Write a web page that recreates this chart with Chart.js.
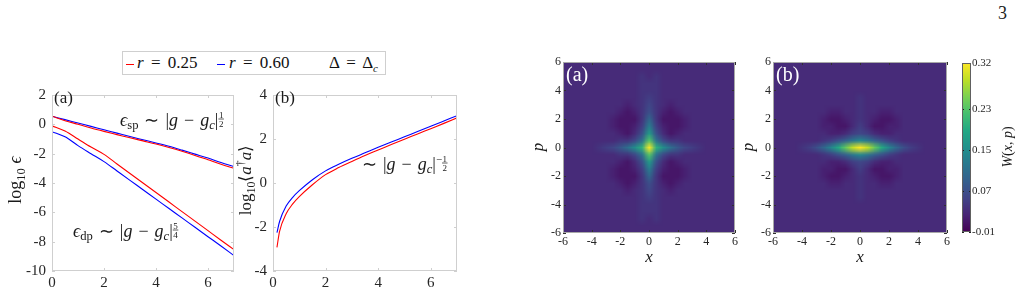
<!DOCTYPE html>
<html><head><meta charset="utf-8">
<script src="https://cdn.jsdelivr.net/npm/chart.js@4.4.1/dist/chart.umd.min.js"></script>
<style>
html,body{margin:0;padding:0;background:#fff;width:1023px;height:299px;overflow:hidden;position:relative;}
canvas{position:absolute;}
#legend{position:absolute;left:122px;top:51px;width:262px;height:22px;border:1px solid #cfcfcf;font-family:"Liberation Serif","Times New Roman",serif;font-size:17px;color:#111;background:#fff;}
#legend .ln{position:absolute;top:12px;width:8px;height:0;border-top:1.3px solid;}
#legend .tx{position:absolute;top:0;line-height:22px;white-space:pre;word-spacing:3px;}
#legend sub{font-size:11px;}
#pnum{position:absolute;left:998px;top:3px;font-family:"Liberation Serif","Times New Roman",serif;font-size:18px;color:#222;}
</style></head><body>
<div id="legend">
 <span class="ln" style="left:3px;border-color:#ff0000"></span>
 <span class="tx" style="left:14px"><i>r</i> = 0.25</span>
 <span class="ln" style="left:94px;border-color:#0000ff"></span>
 <span class="tx" style="left:106px"><i>r</i> = 0.60</span>
 <span class="tx" style="left:206px">Δ = Δ<sub><i>c</i></sub></span>
</div>
<div id="pnum">3</div>
<canvas id="lineA" width="250" height="219" style="left:0px;top:80px"></canvas>
<canvas id="lineB" width="234" height="219" style="left:236px;top:80px"></canvas>
<canvas id="heatA" width="220" height="220" style="left:525px;top:50px"></canvas>
<canvas id="heatB" width="210" height="220" style="left:745px;top:50px"></canvas>
<canvas id="cbar" width="68" height="220" style="left:955px;top:50px"></canvas>
<script>
// ---------------- data ----------------
// panel (a): log10 epsilon vs g
const gA      = [0, 0.5, 1, 1.5, 2, 2.5, 3, 3.5, 4, 4.5, 5, 5.5, 6, 6.5, 7];
const spRed   = [0.55, 0.25, 0.0, -0.25, -0.48, -0.7, -0.92, -1.13, -1.34, -1.58, -1.84, -2.12, -2.42, -2.72, -3.0];
const spBlue  = [0.55, 0.32, 0.09, -0.14, -0.37, -0.6, -0.83, -1.05, -1.27, -1.5, -1.76, -2.03, -2.3, -2.6, -2.88];
const dpRed   = [-0.1, -0.45, -1.0, -1.55, -2.05, -2.7, -3.35, -4.0, -4.65, -5.3, -5.95, -6.6, -7.25, -7.9, -8.54];
const dpBlue  = [-0.5, -0.85, -1.45, -2.0, -2.54, -3.18, -3.82, -4.46, -5.1, -5.74, -6.38, -7.02, -7.66, -8.3, -8.95];
// panel (b): log10 <a^dagger a> vs g
const gB      = [0.15, 0.25, 0.5, 0.75, 1, 1.5, 2, 2.5, 3, 3.5, 4, 4.5, 5, 5.5, 6, 6.5, 7];
const nRed    = [-2.93, -2.2, -1.4, -0.95, -0.62, -0.08, 0.38, 0.7, 0.98, 1.25, 1.5, 1.75, 1.99, 2.23, 2.47, 2.71, 2.96];
const nBlue   = [-2.26, -1.75, -1.05, -0.65, -0.35, 0.15, 0.55, 0.85, 1.12, 1.37, 1.62, 1.86, 2.1, 2.34, 2.58, 2.82, 3.06];
// tick labels
const lineXTicks = [0, 2, 4, 6];
const epsTicks   = [-10, -8, -6, -4, -2, 0, 2];
const nTicks     = [-4, -2, 0, 2, 4];
const heatTicks  = [-6, -4, -2, 0, 2, 4, 6];
const cbTicks    = [-0.01, 0.07, 0.15, 0.23, 0.32];
const cbLabels   = ['-0.01', '0.07', '0.15', '0.23', '0.32'];
// Wigner-function grids (values in units of 0.01); columns x, rows p
const W_UNIT = 0.01;
const heatX = [-6,-5.5,-5,-4.5,-4,-3.5,-3,-2.5,-2,-1.5,-1,-0.5,0,0.5,1,1.5,2,2.5,3,3.5,4,4.5,5,5.5,6];
const heatP = [6,5.5,5,4.5,4,3.5,3,2.5,2,1.5,1,0.5,0,-0.5,-1,-1.5,-2,-2.5,-3,-3.5,-4,-4.5,-5,-5.5,-6];
const wignerA = [
 [3,3,3,3,3,3,3,3,3,3,3,3,3,3,3,3,3,3,3,3,3,3,3,3,3],
 [3,3,3,3,3,3,3,3,3,3,3,3,3,3,3,3,3,3,3,3,3,3,3,3,3],
 [3,3,3,3,3,3,3,3,3,3,3,4,3,4,3,3,3,3,3,3,3,3,3,3,3],
 [3,3,3,3,3,3,3,3,3,3,3,4,4,4,3,3,3,3,3,3,3,3,3,3,3],
 [3,3,3,3,3,3,3,3,3,3,3,4,4,4,3,3,3,3,3,3,3,3,3,3,3],
 [3,3,3,3,3,3,3,3,3,3,3,4,5,4,3,3,3,3,3,3,3,3,3,3,3],
 [3,3,3,3,3,3,3,3,3,2,3,4,6,4,3,2,3,3,3,3,3,3,3,3,3],
 [3,3,3,3,3,3,3,3,2,1,2,4,7,4,2,1,2,3,3,3,3,3,3,3,3],
 [3,3,3,3,3,3,3,2,1,1,1,4,10,4,1,1,1,2,3,3,3,3,3,3,3],
 [3,3,3,3,3,3,3,2,1,1,2,5,13,5,2,1,1,2,3,3,3,3,3,3,3],
 [3,3,3,3,3,3,3,3,2,1,3,7,17,7,3,1,2,3,3,3,3,3,3,3,3],
 [3,3,3,3,3,3,3,3,4,4,6,11,23,11,6,4,4,3,3,3,3,3,3,3,3],
 [3,3,3,3,3,4,5,6,8,11,15,20,32,20,15,11,8,6,5,4,3,3,3,3,3],
 [3,3,3,3,3,3,3,3,4,4,6,11,23,11,6,4,4,3,3,3,3,3,3,3,3],
 [3,3,3,3,3,3,3,3,2,1,3,7,17,7,3,1,2,3,3,3,3,3,3,3,3],
 [3,3,3,3,3,3,3,2,1,1,2,5,13,5,2,1,1,2,3,3,3,3,3,3,3],
 [3,3,3,3,3,3,3,2,1,1,1,4,10,4,1,1,1,2,3,3,3,3,3,3,3],
 [3,3,3,3,3,3,3,3,2,1,2,4,7,4,2,1,2,3,3,3,3,3,3,3,3],
 [3,3,3,3,3,3,3,3,3,2,3,4,6,4,3,2,3,3,3,3,3,3,3,3,3],
 [3,3,3,3,3,3,3,3,3,3,3,4,5,4,3,3,3,3,3,3,3,3,3,3,3],
 [3,3,3,3,3,3,3,3,3,3,3,4,4,4,3,3,3,3,3,3,3,3,3,3,3],
 [3,3,3,3,3,3,3,3,3,3,3,4,4,4,3,3,3,3,3,3,3,3,3,3,3],
 [3,3,3,3,3,3,3,3,3,3,3,4,3,4,3,3,3,3,3,3,3,3,3,3,3],
 [3,3,3,3,3,3,3,3,3,3,3,3,3,3,3,3,3,3,3,3,3,3,3,3,3],
 [3,3,3,3,3,3,3,3,3,3,3,3,3,3,3,3,3,3,3,3,3,3,3,3,3]
];
const wignerB = [
 [3,3,3,3,3,3,3,3,3,3,3,3,3,3,3,3,3,3,3,3,3,3,3,3,3],
 [3,3,3,3,3,3,3,3,3,3,3,3,3,3,3,3,3,3,3,3,3,3,3,3,3],
 [3,3,3,3,3,3,3,3,3,3,3,3,3,3,3,3,3,3,3,3,3,3,3,3,3],
 [3,3,3,3,3,3,3,3,3,3,3,3,3,3,3,3,3,3,3,3,3,3,3,3,3],
 [3,3,3,3,3,3,3,3,3,3,3,3,3,3,3,3,3,3,3,3,3,3,3,3,3],
 [3,3,3,3,3,3,3,3,3,3,3,3,4,3,3,3,3,3,3,3,3,3,3,3,3],
 [3,3,3,3,3,3,3,3,3,3,3,3,4,3,3,3,3,3,3,3,3,3,3,3,3],
 [3,3,3,3,3,3,3,3,2,2,3,3,4,3,3,2,2,3,3,3,3,3,3,3,3],
 [3,3,3,3,3,3,3,2,1,1,2,3,4,3,2,1,1,2,3,3,3,3,3,3,3],
 [3,3,3,3,3,3,3,2,2,1,1,3,5,3,1,1,2,2,3,3,3,3,3,3,3],
 [3,3,3,3,3,3,3,3,2,2,3,5,6,5,3,2,2,3,3,3,3,3,3,3,3],
 [3,3,3,3,3,3,3,4,5,7,9,12,14,12,9,7,5,4,3,3,3,3,3,3,3],
 [3,3,3,3,4,5,7,10,14,19,24,29,32,29,24,19,14,10,7,5,4,3,3,3,3],
 [3,3,3,3,3,3,3,4,5,7,9,12,14,12,9,7,5,4,3,3,3,3,3,3,3],
 [3,3,3,3,3,3,3,3,2,2,3,5,6,5,3,2,2,3,3,3,3,3,3,3,3],
 [3,3,3,3,3,3,3,2,2,1,1,3,5,3,1,1,2,2,3,3,3,3,3,3,3],
 [3,3,3,3,3,3,3,2,1,1,2,3,4,3,2,1,1,2,3,3,3,3,3,3,3],
 [3,3,3,3,3,3,3,3,2,2,3,3,4,3,3,2,2,3,3,3,3,3,3,3,3],
 [3,3,3,3,3,3,3,3,3,3,3,3,4,3,3,3,3,3,3,3,3,3,3,3,3],
 [3,3,3,3,3,3,3,3,3,3,3,3,4,3,3,3,3,3,3,3,3,3,3,3,3],
 [3,3,3,3,3,3,3,3,3,3,3,3,3,3,3,3,3,3,3,3,3,3,3,3,3],
 [3,3,3,3,3,3,3,3,3,3,3,3,3,3,3,3,3,3,3,3,3,3,3,3,3],
 [3,3,3,3,3,3,3,3,3,3,3,3,3,3,3,3,3,3,3,3,3,3,3,3,3],
 [3,3,3,3,3,3,3,3,3,3,3,3,3,3,3,3,3,3,3,3,3,3,3,3,3],
 [3,3,3,3,3,3,3,3,3,3,3,3,3,3,3,3,3,3,3,3,3,3,3,3,3]
];
const viridis = ['#440154','#482475','#414487','#355f8d','#2a788e','#21918c','#22a884','#44bf70','#7ad151','#bddf26','#fde725'];

// ---------------- helpers ----------------
const SERIF = '"Liberation Serif","Times New Roman",serif';
const RED = '#ff0000', BLUE = '#0000ff';
const SP = '\u2004';
function hex(h){return [parseInt(h.slice(1,3),16),parseInt(h.slice(3,5),16),parseInt(h.slice(5,7),16)];}
const vstops = viridis.map(hex);
function cmap(t){
  t = Math.max(0, Math.min(1, t));
  const f = t*(vstops.length-1), i = Math.min(Math.floor(f), vstops.length-2), r = f-i;
  const a = vstops[i], b = vstops[i+1];
  return [a[0]+(b[0]-a[0])*r, a[1]+(b[1]-a[1])*r, a[2]+(b[2]-a[2])*r];
}
function segFont(s, size){ return (s.it?'italic ':'') + (size*(s.s||1)).toFixed(1) + 'px ' + SERIF; }
function segWidth(ctx, s, size){
  ctx.font = segFont(s, size);
  if (s.frac) return Math.max(ctx.measureText(s.frac[0]).width, ctx.measureText(s.frac[1]).width) + 1;
  return ctx.measureText(s.t).width;
}
function drawRich(ctx, it){
  ctx.save();
  ctx.translate(it.x, it.y);
  if (it.rot) ctx.rotate(it.rot);
  const total = it.segs.reduce((w,s)=>w+segWidth(ctx,s,it.size),0);
  let x = it.align==='center' ? -total/2 : 0;
  ctx.fillStyle = it.color || '#1a1a1a';
  ctx.textBaseline = 'alphabetic'; ctx.textAlign = 'left';
  for (const s of it.segs){
    const w = segWidth(ctx, s, it.size);
    ctx.font = segFont(s, it.size);
    const dy = s.dy || 0;
    if (s.frac){
      const fs = it.size*(s.s||1);
      ctx.fillText(s.frac[0], x + (w-ctx.measureText(s.frac[0]).width)/2, dy-1.3);
      ctx.fillText(s.frac[1], x + (w-ctx.measureText(s.frac[1]).width)/2, dy+1.3+fs*0.72);
      ctx.fillRect(x, dy-0.35, w, 0.7);
    } else ctx.fillText(s.t, x, dy);
    x += w;
  }
  ctx.restore();
}
const notesPlugin = { id:'notes', afterDraw(chart, a, o){ (o.items||[]).forEach(it=>drawRich(chart.ctx, it)); } };
const framePlugin = {
  id:'frame',
  afterDraw(chart, args, o){
    if (!o.color) return;
    const ctx = chart.ctx, a = chart.chartArea;
    const L = Math.round(a.left), T = Math.round(a.top), R = Math.round(a.right), B = Math.round(a.bottom);
    ctx.save();
    ctx.lineWidth = 1;
    ctx.strokeStyle = o.tickColor || o.color;
    const len = o.len || 3;
    ctx.beginPath();
    if (!o.noX) for (const t of chart.scales.x.ticks){
      const px = Math.round(chart.scales.x.getPixelForValue(t.value)) + 0.5;
      ctx.moveTo(px, B); ctx.lineTo(px, B-len); ctx.moveTo(px, T); ctx.lineTo(px, T+len);
    }
    for (const t of chart.scales.y.ticks){
      const py = Math.round(chart.scales.y.getPixelForValue(t.value)) + 0.5;
      ctx.moveTo(L, py); ctx.lineTo(L+len, py); ctx.moveTo(R, py); ctx.lineTo(R-len, py);
    }
    ctx.stroke();
    ctx.strokeStyle = o.color;
    ctx.strokeRect(L+0.5, T+0.5, R-L-1, B-T-1);
    ctx.restore();
  }
};
const heatPlugin = {
  id:'heat',
  beforeDatasetsDraw(chart, args, o){
    if (!o.grid) return;
    const g = o.grid, n = g.length, m = g[0].length;
    const off = document.createElement('canvas'); off.width = m; off.height = n;
    const octx = off.getContext('2d'); const img = octx.createImageData(m, n);
    const lo = cbTicks[0], hi = cbTicks[cbTicks.length-1];
    for (let r=0;r<n;r++) for (let c=0;c<m;c++){
      const col = cmap((g[r][c]*W_UNIT - lo)/(hi-lo)); const k = (r*m+c)*4;
      img.data[k]=col[0]; img.data[k+1]=col[1]; img.data[k+2]=col[2]; img.data[k+3]=255;
    }
    octx.putImageData(img, 0, 0);
    const xs = chart.scales.x, ys = chart.scales.y;
    const hx = Math.abs(o.xs[1]-o.xs[0])/2, hp = Math.abs(o.ps[1]-o.ps[0])/2;
    const x0 = xs.getPixelForValue(o.xs[0]-hx), x1 = xs.getPixelForValue(o.xs[m-1]+hx);
    const y0 = ys.getPixelForValue(o.ps[0]+hp), y1 = ys.getPixelForValue(o.ps[n-1]-hp);
    const ctx = chart.ctx, a = chart.chartArea;
    ctx.save();
    ctx.beginPath(); ctx.rect(a.left, a.top, a.right-a.left, a.bottom-a.top); ctx.clip();
    ctx.imageSmoothingEnabled = true;
    ctx.drawImage(off, x0, y0, x1-x0, y1-y0);
    ctx.restore();
  }
};
const cbarPlugin = {
  id:'cbarfill',
  beforeDatasetsDraw(chart, args, o){
    if (!o.on) return;
    const ctx = chart.ctx, a = chart.chartArea, ys = chart.scales.y;
    const lo = cbTicks[0], hi = cbTicks[cbTicks.length-1];
    const grd = ctx.createLinearGradient(0, ys.getPixelForValue(lo), 0, ys.getPixelForValue(hi));
    viridis.forEach((c,i)=>grd.addColorStop(i/(viridis.length-1), c));
    ctx.save(); ctx.fillStyle = grd; ctx.fillRect(a.left, a.top, a.right-a.left, a.bottom-a.top); ctx.restore();
  }
};

function fixTicks(arr){ return s => { s.ticks = arr.map(v=>({value:v})); }; }
function linScale(min, max, ticks, fit, font, pad, extra){
  return Object.assign({
    type:'linear', min, max,
    afterBuildTicks: fixTicks(ticks),
    afterFit: fit,
    grid:{display:false, drawTicks:false},
    border:{display:false},
    ticks:{font:{family:SERIF, size:font}, color:'#262626', padding:pad, maxRotation:0, autoSkip:false}
  }, extra||{});
}
function pts(xs, ys){ return xs.map((x,i)=>({x, y:ys[i]})); }
function ds(label, xs, ys, color){
  return {label, data:pts(xs,ys), borderColor:color, backgroundColor:color, borderWidth:1.1, pointRadius:0, fill:false, cubicInterpolationMode:'monotone'};
}
const base = {responsive:false, animation:false, devicePixelRatio:1, events:[]};

// ---------------- panel (a) ----------------
new Chart(document.getElementById('lineA'), {
  type:'line',
  data:{datasets:[
    ds('r = 0.25 sp', gA, spRed, RED), ds('r = 0.60 sp', gA, spBlue, BLUE),
    ds('r = 0.25 dp', gA, dpRed, RED), ds('r = 0.60 dp', gA, dpBlue, BLUE)
  ]},
  options:Object.assign({}, base, {
    layout:{padding:{left:0, right:16, top:10, bottom:0}},
    plugins:{legend:{display:false}, tooltip:{enabled:false},
      frame:{color:'#cfcfcf', len:3},
      notes:{items:[
        {x:54, y:23, size:17, segs:[{t:'(a)'}]},
        {x:120, y:46, size:18, segs:[{t:'ϵ',it:1},{t:'sp',s:0.7,dy:3},{t:SP+'∼'+SP+'|'},{t:'g',it:1},{t:SP+'−'+SP},{t:'g',it:1},{t:'c',it:1,s:0.7,dy:3},{t:'|'},{frac:['1','2'],s:0.5,dy:-7}]},
        {x:73, y:157, size:18, segs:[{t:'ϵ',it:1},{t:'dp',s:0.7,dy:3},{t:SP+'∼'+SP+'|'},{t:'g',it:1},{t:SP+'−'+SP},{t:'g',it:1},{t:'c',it:1,s:0.7,dy:3},{t:'|'},{frac:['5','4'],s:0.5,dy:-7}]},
        {x:21, y:100, size:18, rot:-Math.PI/2, align:'center', segs:[{t:'log'},{t:'10',s:0.7,dy:4},{t:' '},{t:'ϵ',it:1}]}
      ]}
    },
    scales:{
      x: linScale(0, 7, lineXTicks, s=>{s.height=28;}, 15, 3),
      y: linScale(-10, 2, epsTicks, s=>{s.width=52;}, 15, 6)
    }
  }),
  plugins:[framePlugin, notesPlugin]
});

// ---------------- panel (b) ----------------
new Chart(document.getElementById('lineB'), {
  type:'line',
  data:{datasets:[ ds('r = 0.25', gB, nRed, RED), ds('r = 0.60', gB, nBlue, BLUE) ]},
  options:Object.assign({}, base, {
    layout:{padding:{left:0, right:13, top:10, bottom:0}},
    plugins:{legend:{display:false}, tooltip:{enabled:false},
      frame:{color:'#cfcfcf', len:3},
      notes:{items:[
        {x:39, y:23, size:17, segs:[{t:'(b)'}]},
        {x:126, y:90, size:18, segs:[{t:'∼'+SP+'|'},{t:'g',it:1},{t:SP+'−'+SP},{t:'g',it:1},{t:'c',it:1,s:0.7,dy:3},{t:'|'},{t:'−',s:0.6,dy:-7},{frac:['1','2'],s:0.5,dy:-7}]},
        {x:15, y:100, size:17, rot:-Math.PI/2, align:'center', segs:[{t:'log'},{t:'10',s:0.7,dy:4},{t:'⟨'},{t:'a',it:1},{t:'†',s:0.7,dy:-7},{t:'a',it:1},{t:'⟩'}]}
      ]}
    },
    scales:{
      x: linScale(0, 7, lineXTicks, s=>{s.height=28;}, 15, 3),
      y: linScale(-4, 4, nTicks, s=>{s.width=37;}, 15, 6)
    }
  }),
  plugins:[framePlugin, notesPlugin]
});

// ---------------- Wigner maps ----------------
function heatChart(id, grid, yW, padR, label, lx){
  return new Chart(document.getElementById(id), {
    type:'scatter',
    data:{datasets:[]},
    options:Object.assign({}, base, {
      layout:{padding:{left:0, right:padR, top:12, bottom:0}},
      plugins:{legend:{display:false}, tooltip:{enabled:false},
        heat:{grid, xs:heatX, ps:heatP},
        frame:{color:'#a8a8a8', tickColor:'#303030', len:3},
        notes:{items:[
          {x:yW+3, y:31, size:20, color:'#ffffff', segs:[{t:label}]},
          {x:lx, y:212, size:17, align:'center', segs:[{t:'x',it:1}]},
          {x:yW-20, y:97, size:17, rot:-Math.PI/2, align:'center', segs:[{t:'p',it:1}]}
        ]}
      },
      scales:{
        x: linScale(-6, 6, heatTicks, s=>{s.height=37;}, 12, 2),
        y: linScale(-6, 6, heatTicks, s=>{s.width=yW;}, 12, 2)
      }
    }),
    plugins:[heatPlugin, framePlugin, notesPlugin]
  });
}
heatChart('heatA', wignerA, 38, 10, '(a)', 124);
heatChart('heatB', wignerB, 28, 8, '(b)', 115);

// ---------------- colour bar ----------------
new Chart(document.getElementById('cbar'), {
  type:'scatter',
  data:{datasets:[]},
  options:Object.assign({}, base, {
    layout:{padding:{left:7, right:0, top:13, bottom:38}},
    plugins:{legend:{display:false}, tooltip:{enabled:false},
      cbarfill:{on:true},
      frame:{color:'#606060', tickColor:'#202020', len:2, noX:true},
      notes:{items:[
        {x:57, y:97, size:14, rot:-Math.PI/2, align:'center', segs:[{t:'W',it:1},{t:'('},{t:'x',it:1},{t:', '},{t:'p',it:1},{t:')'}]}
      ]}
    },
    scales:{
      x:{type:'linear', min:0, max:1, display:false},
      y: linScale(cbTicks[0], cbTicks[cbTicks.length-1], cbTicks, s=>{s.width=52;}, 11, 1,
        {position:'right', ticks:{font:{family:SERIF, size:11}, color:'#262626', padding:1, autoSkip:false, callback:(v,i)=>cbLabels[i]}})
    }
  }),
  plugins:[cbarPlugin, framePlugin, notesPlugin]
});
</script>
</body></html>
